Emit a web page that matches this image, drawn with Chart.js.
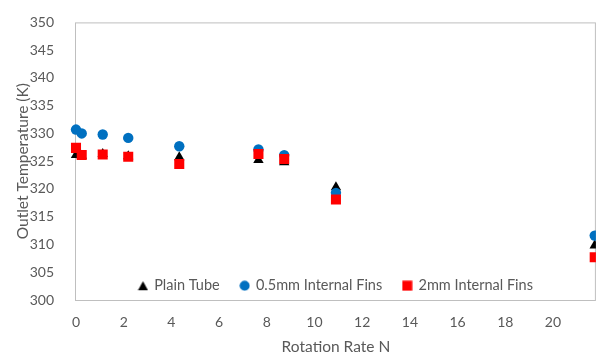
<!DOCTYPE html>
<html><head><meta charset="utf-8">
<script src="https://cdn.jsdelivr.net/npm/chart.js@4/dist/chart.umd.min.js"></script>
<style>html,body{margin:0;padding:0;background:#fff}canvas{display:block}</style>
</head><body>
<canvas id="c" width="603" height="356"></canvas>
<script>
const seriesNames = ['Plain Tube', '0.5mm Internal Fins', '2mm Internal Fins'];
const rotationRate = [0, 0.24, 1.12, 2.19, 4.33, 7.65, 8.73, 10.9, 21.75];
const plainTube = [326.1, 326.0, 326.3, 325.9, 325.7, 325.2, 324.8, 320.3, 309.8];
const fins05 = [330.7, 330.0, 329.8, 329.2, 327.7, 327.1, 326.1, 319.3, 311.6];
const fins2 = [327.4, 326.1, 326.2, 325.8, 324.5, 326.3, 325.4, 318.1, 307.7];
const xTicks = [0, 2, 4, 6, 8, 10, 12, 14, 16, 18, 20];
const yTicks = [300, 305, 310, 315, 320, 325, 330, 335, 340, 345, 350];

const pts = (ys) => rotationRate.map((x, i) => ({x: x, y: ys[i]}));
const FONT = 'Lato';
const GREY = '#595959';

// small legend marker images (Excel-like sizes)
function legendMarker(style, color) {
  const c = document.createElement('canvas');
  c.width = 11; c.height = 11;
  const g = c.getContext('2d');
  g.fillStyle = color;
  g.beginPath();
  if (style === 'triangle') { g.moveTo(5.5, 1); g.lineTo(10.5, 10); g.lineTo(0.5, 10); g.closePath(); }
  else if (style === 'circle') { g.arc(5.5, 5.5, 5, 0, Math.PI * 2); }
  else { g.rect(0.5, 0.5, 10, 10); }
  g.fill();
  return c;
}

const frame = {
  id: 'frame',
  beforeDatasetsDraw(chart) {
    const {ctx, chartArea: a} = chart;
    ctx.save();
    ctx.strokeStyle = '#bfbfbf';
    ctx.lineWidth = 1;
    ctx.strokeRect(a.left - 0.5, a.top + 0.5, a.right - a.left, a.bottom - a.top);
    ctx.restore();
  }
};

const legendInside = {
  id: 'legendInside',
  beforeLayout(chart) {
    const lg = chart.legend;
    if (lg && !lg._patched) {
      const orig = lg.fit.bind(lg);
      lg.fit = function () { orig(); this._realH = this.height; this.height = 0; };
      lg._patched = true;
    }
  },
  afterLayout(chart) {
    const lg = chart.legend, a = chart.chartArea;
    if (!lg) return;
    const h = lg._realH || 30;
    const pad = lg.options.labels.padding;
    const centerY = a.bottom - 14.5;
    lg.left = a.left; lg.right = a.right; lg.width = a.right - a.left;
    lg.top = centerY - pad - 7; lg.bottom = lg.top + h; lg.height = h;
  }
};

new Chart(document.getElementById('c'), {
  type: 'scatter',
  data: {
    datasets: [
      {label: seriesNames[0], data: pts(plainTube), pointStyle: 'triangle', pointRadius: 6, pointHoverRadius: 6,
       backgroundColor: '#000000', borderColor: '#000000', pointBorderWidth: 0, order: 2,
       clip: {left: 20, top: 20, right: 0, bottom: 20}},
      {label: seriesNames[1], data: pts(fins05), pointStyle: 'circle', pointRadius: 5.2, pointHoverRadius: 5.2,
       backgroundColor: '#0070C0', borderColor: '#0070C0', pointBorderWidth: 0, order: 1,
       clip: {left: 20, top: 20, right: 0, bottom: 20}},
      {label: seriesNames[2], data: pts(fins2), pointStyle: 'rect', pointRadius: 7.1, pointHoverRadius: 7.1,
       backgroundColor: '#FF0000', borderColor: '#FF0000', pointBorderWidth: 0, order: 0,
       clip: {left: 20, top: 20, right: 0, bottom: 20}}
    ]
  },
  options: {
    responsive: false,
    animation: false,
    devicePixelRatio: 1,
    layout: {padding: {top: 18, right: 2, left: 0, bottom: 0}},
    plugins: {
      tooltip: {enabled: false},
      legend: {
        position: 'bottom',
        labels: {usePointStyle: true, boxWidth: 8, boxHeight: 8, padding: 21,
                 sort: (a, b) => a.datasetIndex - b.datasetIndex,
                 generateLabels: (chart) => {
                   const items = Chart.defaults.plugins.legend.labels.generateLabels(chart);
                   items.forEach(it => {
                     const ds = chart.data.datasets[it.datasetIndex];
                     it.pointStyle = legendMarker(ds.pointStyle, ds.backgroundColor);
                   });
                   return items;
                 },
                 color: GREY, font: {family: FONT, size: 14.5}}
      }
    },
    scales: {
      x: {
        type: 'linear', min: 0, max: 21.8,
        afterBuildTicks: (s) => { s.ticks = xTicks.map(v => ({value: v})); },
        afterFit: (s) => { s.height = 56; },
        grid: {display: false}, border: {display: false},
        ticks: {color: GREY, font: {family: FONT, size: 14}, padding: 6.5, includeBounds: false},
        title: {display: true, text: 'Rotation Rate N', color: GREY,
                font: {family: FONT, size: 15.5}, padding: {top: 0, bottom: 0}}
      },
      y: {
        type: 'linear', min: 300, max: 350,
        afterBuildTicks: (s) => { s.ticks = yTicks.map(v => ({value: v})); },
        afterFit: (s) => { s.width = 76; },
        grid: {display: false}, border: {display: false},
        ticks: {color: GREY, font: {family: FONT, size: 14}, padding: 14},
        title: {display: true, text: 'Outlet Temperature (K)', color: GREY,
                font: {family: FONT, size: 15.5}, padding: {top: 13.4, bottom: 0}}
      }
    }
  },
  plugins: [frame, legendInside]
});
</script>
</body></html>
